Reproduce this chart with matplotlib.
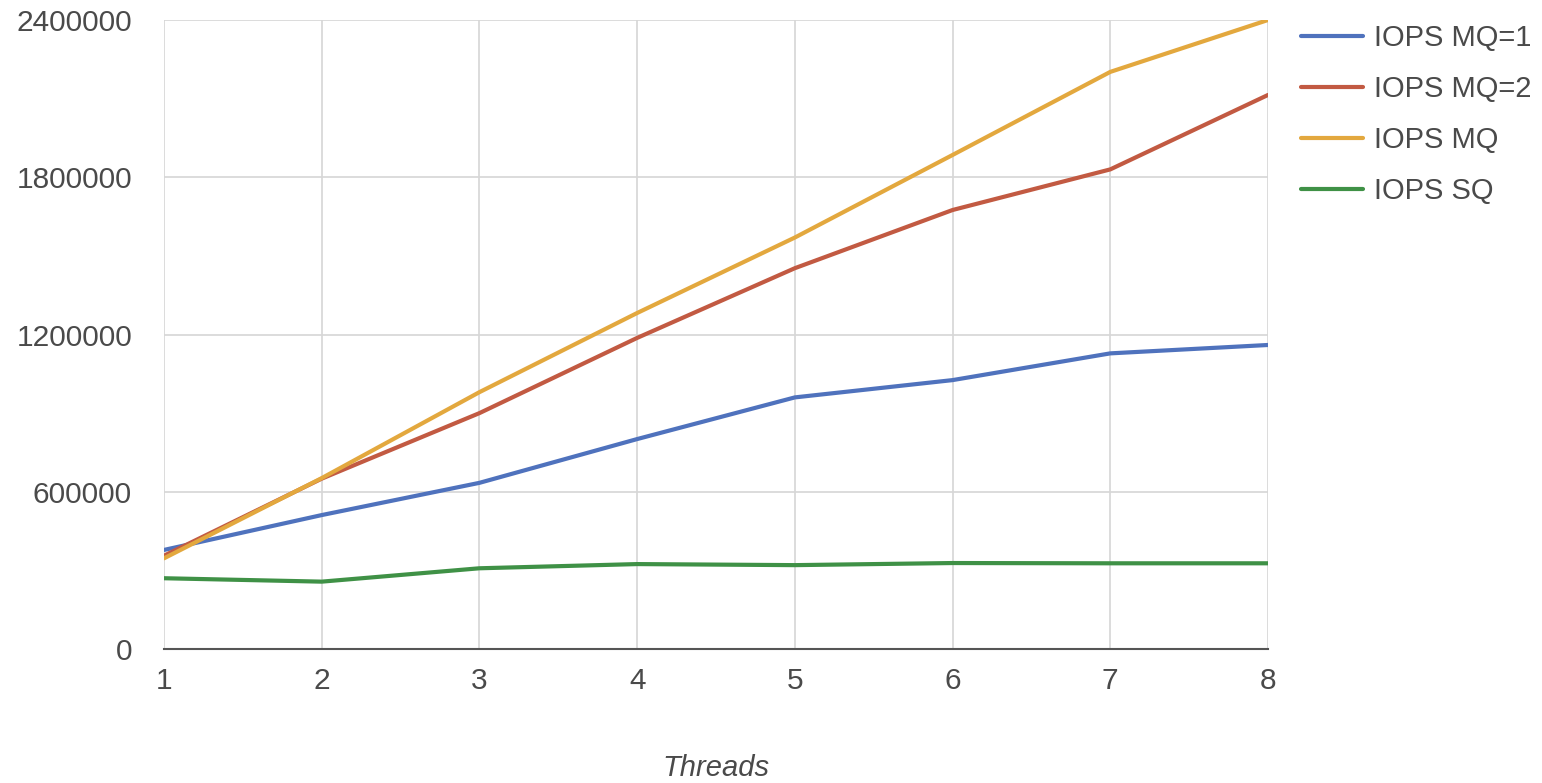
import matplotlib
matplotlib.use("Agg")
import matplotlib.pyplot as plt

threads = [1, 2, 3, 4, 5, 6, 7, 8]
iops_mq1 = [378000, 511000, 634000, 801000, 960000, 1026000, 1128000, 1160000]
iops_mq2 = [356000, 650000, 900000, 1187000, 1453000, 1675000, 1830000, 2114000]
iops_mq = [346000, 652000, 980000, 1282000, 1570000, 1885000, 2202000, 2400000]
iops_sq = [270000, 257000, 308000, 324000, 320000, 328000, 327000, 327000]
yticks = [0, 600000, 1200000, 1800000, 2400000]

series = [
    ("IOPS MQ=1", iops_mq1, "#4f72bd"),
    ("IOPS MQ=2", iops_mq2, "#c25a42"),
    ("IOPS MQ", iops_mq, "#e3a83e"),
    ("IOPS SQ", iops_sq, "#3f9146"),
]

plt.rcParams['font.family'] = ['Liberation Sans', 'DejaVu Sans']

fig = plt.figure(figsize=(15.42, 7.83), dpi=100)
ax = fig.add_axes([164/1542, 1 - 649/783, (1268-164)/1542, (649-20)/783])

for name, vals, col in series:
    ax.plot(threads, vals, color=col, lw=3, label=name, solid_capstyle='round')

ax.set_xlim(1, 8)
ax.set_ylim(0, 2400000)
ax.set_xticks(threads)
ax.set_yticks(yticks)
ax.set_yticklabels([str(v) for v in yticks])
ax.grid(True, color="#d6d6d6", lw=1.2)
ax.set_axisbelow(True)
for s in ['top', 'right', 'left']:
    ax.spines[s].set_visible(False)
ax.spines['bottom'].set_color('#555555')
ax.spines['bottom'].set_linewidth(1.5)
ax.tick_params(axis='both', length=0, labelsize=21.5, colors='#4a4a4a')
ax.tick_params(axis='y', pad=23)
ax.tick_params(axis='x', pad=13)

fig.text(716/1542, 1 - 768/783, "Threads", ha='center', va='center',
         fontsize=21, style='italic', color='#4a4a4a')

leg = ax.legend(loc='upper left', bbox_to_anchor=(1275/1542, 1 + 2/783),
                bbox_transform=fig.transFigure, frameon=False, fontsize=21,
                handlelength=2.1, handletextpad=0.4, labelspacing=0.79)
for t in leg.get_texts():
    t.set_color('#4a4a4a')

fig.savefig("out.png", dpi=100)
